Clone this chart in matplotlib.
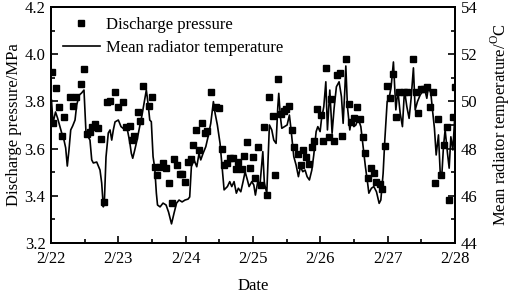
import matplotlib
matplotlib.use("Agg")
import matplotlib.pyplot as plt
from matplotlib.ticker import MultipleLocator

plt.rcParams['font.family'] = ['Liberation Serif', 'DejaVu Serif']
plt.rcParams['mathtext.fontset'] = 'custom'
plt.rcParams['mathtext.rm'] = 'Liberation Serif'
plt.rcParams['font.size'] = 12

# days since 2/22 00:00
date_labels = ['2/22', '2/23', '2/24', '2/25', '2/26', '2/27', '2/28']

pressure_days = [0.010, 0.025, 0.070, 0.119, 0.163, 0.198, 0.282, 0.322, 0.371, 0.446,
                 0.490, 0.539, 0.579, 0.614, 0.654, 0.703, 0.738, 0.788, 0.828, 0.877,
                 0.951, 1.000, 1.070, 1.119, 1.169, 1.204, 1.238, 1.288, 1.327, 1.367,
                 1.461, 1.496, 1.541, 1.575, 1.615, 1.660, 1.709, 1.749, 1.790, 1.828,
                 1.872, 1.912, 1.951, 1.996, 2.036, 2.085, 2.114, 2.159, 2.199, 2.248,
                 2.288, 2.322, 2.373, 2.447, 2.496, 2.536, 2.571, 2.620, 2.660, 2.709,
                 2.744, 2.783, 2.834, 2.868, 2.917, 2.952, 2.997, 3.031, 3.080, 3.120,
                 3.160, 3.210, 3.244, 3.294, 3.328, 3.369, 3.418, 3.458, 3.492, 3.541,
                 3.581, 3.615, 3.666, 3.715, 3.749, 3.789, 3.829, 3.874, 3.912, 3.952,
                 4.004, 4.042, 4.082, 4.126, 4.165, 4.205, 4.250, 4.290, 4.328, 4.379,
                 4.423, 4.462, 4.502, 4.547, 4.587, 4.636, 4.670, 4.710, 4.750, 4.795,
                 4.834, 4.884, 4.918, 4.963, 4.993, 5.037, 5.077, 5.126, 5.171, 5.245,
                 5.294, 5.383, 5.423, 5.458, 5.493, 5.542, 5.582, 5.632, 5.681, 5.706,
                 5.746, 5.795, 5.840, 5.880, 5.918, 5.978, 5.996]
pressure = [3.926, 3.710, 3.856, 3.775, 3.655, 3.735, 3.817, 3.780, 3.817, 3.874,
            3.937, 3.662, 3.669, 3.690, 3.704, 3.686, 3.641, 3.372, 3.796, 3.802,
            3.839, 3.775, 3.799, 3.693, 3.696, 3.636, 3.655, 3.756, 3.718, 3.867,
            3.782, 3.820, 3.523, 3.488, 3.521, 3.538, 3.519, 3.456, 3.368, 3.554,
            3.531, 3.491, 3.492, 3.460, 3.542, 3.556, 3.615, 3.679, 3.594, 3.707,
            3.665, 3.676, 3.841, 3.778, 3.771, 3.597, 3.531, 3.540, 3.559, 3.559,
            3.512, 3.545, 3.514, 3.569, 3.629, 3.519, 3.566, 3.474, 3.606, 3.446,
            3.690, 3.403, 3.817, 3.738, 3.488, 3.895, 3.747, 3.761, 3.768, 3.782,
            3.679, 3.606, 3.577, 3.531, 3.594, 3.563, 3.535, 3.606, 3.633, 3.768,
            3.742, 3.633, 3.940, 3.648, 3.809, 3.633, 3.912, 3.919, 3.653, 3.978,
            3.788, 3.714, 3.728, 3.778, 3.725, 3.650, 3.580, 3.474, 3.517, 3.495,
            3.460, 3.450, 3.427, 3.612, 3.867, 3.813, 3.915, 3.735, 3.841, 3.841,
            3.841, 3.978, 3.839, 3.750, 3.851, 3.851, 3.862, 3.778, 3.839, 3.453,
            3.725, 3.488, 3.615, 3.693, 3.382, 3.735, 3.862]

temp_days = [0.007, 0.030, 0.067, 0.097, 0.126, 0.159, 0.193, 0.218, 0.242, 0.267,
             0.293, 0.322, 0.357, 0.382, 0.421, 0.456, 0.490, 0.520, 0.554, 0.579,
             0.605, 0.629, 0.679, 0.728, 0.753, 0.777, 0.792, 0.817, 0.851, 0.877,
             0.902, 0.926, 0.951, 1.000, 1.040, 1.070, 1.104, 1.140, 1.169, 1.193,
             1.214, 1.244, 1.278, 1.312, 1.352, 1.386, 1.416, 1.441, 1.467, 1.490,
             1.516, 1.541, 1.565, 1.582, 1.620, 1.664, 1.709, 1.746, 1.790, 1.828,
             1.865, 1.902, 1.947, 1.991, 2.036, 2.060, 2.085, 2.125, 2.165, 2.199,
             2.224, 2.259, 2.299, 2.333, 2.373, 2.412, 2.437, 2.471, 2.511, 2.545,
             2.571, 2.620, 2.655, 2.685, 2.719, 2.753, 2.783, 2.819, 2.853, 2.883,
             2.917, 2.942, 2.982, 3.012, 3.036, 3.071, 3.105, 3.146, 3.169, 3.205,
             3.244, 3.279, 3.309, 3.343, 3.369, 3.383, 3.407, 3.428, 3.467, 3.507,
             3.541, 3.566, 3.606, 3.640, 3.675, 3.704, 3.740, 3.774, 3.804, 3.838,
             3.874, 3.903, 3.938, 3.963, 3.997, 4.016, 4.052, 4.082, 4.106, 4.141,
             4.175, 4.205, 4.239, 4.279, 4.314, 4.339, 4.364, 4.379, 4.403, 4.438,
             4.462, 4.498, 4.528, 4.562, 4.602, 4.636, 4.670, 4.700, 4.721, 4.759,
             4.795, 4.834, 4.874, 4.899, 4.933, 4.958, 4.993, 5.022, 5.052, 5.086,
             5.122, 5.152, 5.186, 5.220, 5.250, 5.285, 5.319, 5.349, 5.383, 5.409,
             5.443, 5.483, 5.517, 5.547, 5.582, 5.606, 5.642, 5.666, 5.695, 5.721,
             5.755, 5.780, 5.805, 5.829, 5.854, 5.889, 5.914, 5.939, 5.969, 5.996]
temperature = [50.06, 49.08, 49.55, 49.30, 49.00, 48.66, 48.36, 48.03, 47.26, 47.94,
               48.79, 48.96, 49.21, 49.85, 50.27, 50.36, 50.48, 48.66, 48.49, 48.36,
               47.52, 47.39, 47.43, 47.09, 46.54, 45.53, 45.69, 47.64, 48.66, 48.79,
               48.36, 48.79, 49.13, 49.21, 48.93, 48.86, 49.00, 48.72, 48.29, 47.80,
               47.59, 47.94, 48.36, 48.86, 49.42, 49.99, 50.48, 49.92, 49.21, 49.14,
               47.66, 47.17, 46.11, 45.61, 45.53, 45.69, 45.61, 45.31, 44.81, 45.27,
               45.69, 45.82, 45.74, 45.82, 45.86, 45.95, 47.23, 47.52, 47.23, 47.80,
               47.52, 47.80, 48.08, 48.50, 49.07, 49.99, 49.50, 49.00, 48.22, 47.09,
               46.25, 46.39, 46.60, 46.39, 46.60, 46.11, 46.32, 46.17, 46.60, 47.02,
               46.67, 46.39, 46.60, 46.46, 46.03, 46.60, 46.50, 47.87, 46.53, 46.11,
               49.00, 48.79, 48.36, 48.22, 49.78, 50.34, 49.35, 48.86, 48.93, 49.00,
               49.42, 48.79, 47.66, 47.31, 46.81, 47.23, 47.02, 47.09, 46.81, 46.67,
               47.09, 47.73, 48.72, 48.93, 48.72, 49.21, 49.78, 50.83, 48.79, 50.48,
               48.65, 49.71, 50.62, 50.83, 50.20, 49.07, 50.48, 51.50, 49.78, 48.79,
               49.21, 48.93, 49.00, 49.28, 48.93, 48.08, 47.23, 46.60, 46.11, 46.32,
               46.39, 46.17, 45.68, 45.82, 46.95, 48.36, 49.99, 50.13, 50.62, 51.67,
               49.64, 50.48, 49.50, 48.93, 50.48, 49.78, 49.28, 50.13, 51.42, 49.64,
               49.99, 50.27, 50.41, 50.56, 50.13, 50.62, 50.34, 49.64, 48.86, 47.73,
               48.58, 47.02, 46.88, 48.08, 48.79, 47.80, 47.17, 48.50, 47.94, 49.30]

fig = plt.figure(figsize=(5.12, 2.98), dpi=100)
ax = fig.add_axes([0.0996, 0.1846, 0.789, 0.792])
ax2 = ax.twinx()

p1, = ax.plot(pressure_days, pressure, 's', color='black', markersize=3.9,
              label='Discharge pressure')
l1, = ax2.plot(temp_days, temperature, '-', color='black', linewidth=1.2,
               label='Mean radiator temperature')

ax.set_xlim(0, 6)
ax.set_ylim(3.2, 4.2)
ax2.set_ylim(44, 54)

ax.set_xticks(range(7))
ax.set_xticklabels(date_labels)
ax.xaxis.set_minor_locator(MultipleLocator(0.5))
ax.yaxis.set_major_locator(MultipleLocator(0.2))
ax.yaxis.set_minor_locator(MultipleLocator(0.1))
ax.yaxis.set_major_formatter(matplotlib.ticker.FormatStrFormatter('%.1f'))
ax2.yaxis.set_major_locator(MultipleLocator(2))
ax2.yaxis.set_minor_locator(MultipleLocator(1))

ax.tick_params(which='both', direction='in', top=False, right=False, labelsize=12, pad=4)
ax.tick_params(axis='x', which='both', pad=6)
ax.tick_params(which='major', length=5, width=1.2)
ax.tick_params(which='minor', length=3, width=1.2)
ax2.tick_params(which='both', direction='in', labelsize=12, pad=4)
ax2.tick_params(which='major', length=5, width=1.2)
ax2.tick_params(which='minor', length=3, width=1.2)

for a in (ax, ax2):
    for s in a.spines.values():
        s.set_linewidth(1.4)

ax.set_xlabel('Date', fontsize=12, labelpad=8)
ax.set_ylabel('Discharge pressure/MPa', fontsize=12, labelpad=2)
ax2.set_ylabel(r'Mean radiator temperature/$^{\mathrm{O}}$C', fontsize=12, labelpad=8)

ax.legend([p1, l1], ['Discharge pressure', 'Mean radiator temperature'],
          loc='upper left', frameon=False, fontsize=12, handlelength=2.2,
          handletextpad=0.4, borderaxespad=0.2, labelspacing=0.4,
          bbox_to_anchor=(0.005, 1.0))

fig.savefig('out.png', dpi=100)
